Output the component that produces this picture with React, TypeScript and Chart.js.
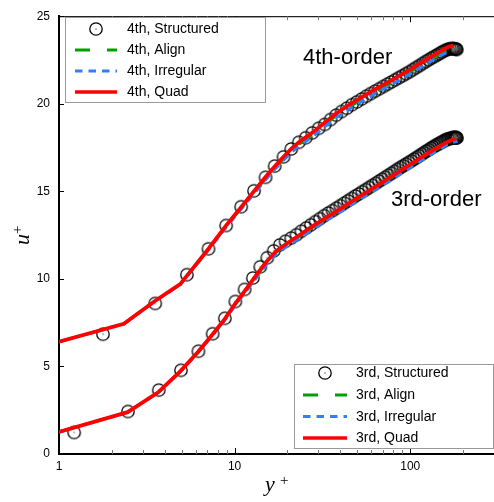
import React, { useEffect, useRef } from 'react';
import { Chart, registerables } from 'chart.js';

Chart.register(...registerables);

// ---------- axes ----------
const xTickLabels = [1, 10, 100];
const xMinorTicks = [2, 3, 4, 5, 6, 7, 8, 9, 20, 30, 40, 50, 60, 70, 80, 90, 200, 300];
const yTickLabels = [0, 5, 10, 15, 20, 25];

// ---------- 4th order ----------
const structured4X = [1.78, 3.53, 5.35, 7.1, 8.95, 10.9, 12.9, 15.0, 16.9, 19.0, 21.0, 23.2, 25.4, 27.7, 30.1, 32.6, 35.2, 37.9, 40.7, 43.6, 46.6, 49.7, 52.9, 56.2, 59.6, 63.1, 66.7, 70.4, 74.2, 78.1, 82.1, 86.2, 90.4, 94.7, 99.1, 103.6, 108.2, 112.9, 117.7, 122.6, 127.5, 132.4, 137.3, 142.2, 147.0, 151.7, 156.3, 160.7, 164.9, 168.8, 172.4, 175.6, 178.4, 180.8, 182.7, 184.0];
const structured4U = [6.84, 8.6, 10.24, 11.72, 13.05, 14.12, 15.03, 15.8, 16.44, 16.97, 17.42, 17.8, 18.06, 18.34, 18.6, 18.82, 19.1, 19.35, 19.56, 19.75, 19.95, 20.11, 20.27, 20.43, 20.58, 20.72, 20.86, 20.99, 21.12, 21.24, 21.37, 21.49, 21.6, 21.72, 21.83, 21.95, 22.07, 22.18, 22.3, 22.41, 22.51, 22.61, 22.7, 22.79, 22.87, 22.95, 23.02, 23.08, 23.12, 23.14, 23.15, 23.15, 23.14, 23.13, 23.12, 23.1];

const align4X = [1, 2.34, 3.5, 4.9, 7.1, 9, 11, 13, 15, 17, 19, 21, 23.2, 25.4, 29, 32.2, 37.5, 46.5, 60, 78, 100, 120, 140, 155, 166, 175];
const align4U = [6.41, 7.43, 8.71, 9.68, 11.68, 13.03, 14.09, 14.97, 15.73, 16.35, 16.86, 17.3, 17.68, 17.95, 18.37, 18.75, 19.29, 19.91, 20.57, 21.21, 21.82, 22.32, 22.72, 22.97, 23.12, 23.18];

const irregular4X = [1, 2.34, 3.5, 4.9, 7.1, 9, 11, 13, 15, 17, 19, 21, 23.2, 25.4, 29, 32.2, 37.5, 46.5, 60, 78, 100, 120, 140, 155, 168];
const irregular4U = [6.41, 7.43, 8.7, 9.66, 11.65, 12.98, 14.03, 14.9, 15.65, 16.27, 16.78, 17.22, 17.58, 17.85, 18.27, 18.64, 19.18, 19.8, 20.45, 21.09, 21.7, 22.2, 22.6, 22.85, 22.97];

const quad4X = [1, 2.34, 3.5, 4.9, 7.1, 9, 11, 13, 15, 17, 19, 21, 23.2, 25.4, 29, 32.2, 37.5, 46.5, 60, 78, 100, 120, 140, 155, 166, 177];
const quad4U = [6.41, 7.43, 8.72, 9.7, 11.72, 13.08, 14.15, 15.05, 15.82, 16.45, 16.97, 17.42, 17.8, 18.08, 18.5, 18.88, 19.42, 20.04, 20.7, 21.34, 21.95, 22.45, 22.85, 23.1, 23.26, 23.32];

// ---------- 3rd order ----------
const structured3X = [1.22, 2.47, 3.7, 4.95, 6.22, 7.5, 8.8, 10.1, 11.4, 12.7, 14.0, 15.35, 16.7, 18.1, 19.5, 21.0, 22.5, 24.0, 25.6, 27.2, 28.9, 30.6, 32.4, 34.2, 36.1, 38.0, 40.0, 42.1, 44.2, 46.4, 48.7, 51.0, 53.4, 55.9, 58.4, 61.0, 63.7, 66.5, 69.3, 72.2, 75.2, 78.3, 81.4, 84.6, 87.9, 91.2, 94.6, 98.1, 101.6, 105.2, 108.8, 112.5, 116.2, 120.0, 123.8, 127.6, 131.4, 135.2, 139.0, 142.8, 146.5, 150.2, 153.8, 157.3, 160.7, 164.0, 167.2, 170.2, 173.0, 175.6, 178.0, 180.1, 181.9, 183.3, 184.2];
const structured3U = [1.23, 2.43, 3.65, 4.78, 5.87, 6.87, 7.75, 8.71, 9.4, 10.05, 10.69, 11.21, 11.6, 11.94, 12.15, 12.33, 12.52, 12.72, 12.91, 13.09, 13.27, 13.44, 13.61, 13.76, 13.9, 14.04, 14.18, 14.32, 14.46, 14.59, 14.73, 14.85, 14.98, 15.1, 15.22, 15.34, 15.46, 15.58, 15.69, 15.8, 15.92, 16.03, 16.14, 16.25, 16.36, 16.46, 16.55, 16.65, 16.74, 16.84, 16.93, 17.03, 17.12, 17.21, 17.3, 17.38, 17.46, 17.54, 17.61, 17.68, 17.74, 17.8, 17.85, 17.91, 17.96, 17.98, 18.01, 18.03, 18.05, 18.07, 18.08, 18.07, 18.07, 18.06, 18.05];

const align3X = [1, 2.46, 3.67, 4.9, 6.2, 7.5, 8.8, 10.1, 11.5, 13, 15, 17.3, 20, 23, 26.6, 32, 40.9, 50, 62.9, 78, 96.7, 115, 136.5, 160, 172, 182];
const align3U = [1.26, 2.39, 3.51, 4.7, 5.81, 6.8, 7.68, 8.55, 9.28, 10.02, 10.85, 11.53, 11.98, 12.38, 12.81, 13.33, 13.99, 14.55, 15.17, 15.77, 16.37, 16.85, 17.31, 17.71, 17.86, 17.94];

const irregular3X = [1, 2.46, 3.67, 4.9, 6.2, 7.5, 8.8, 10.1, 11.5, 13, 15, 17.3, 20, 23, 26.6, 32, 40.9, 50, 62.9, 78, 96.7, 115, 136.5, 160, 175, 186];
const irregular3U = [1.26, 2.39, 3.5, 4.68, 5.79, 6.78, 7.64, 8.5, 9.22, 9.93, 10.76, 11.44, 11.88, 12.28, 12.71, 13.23, 13.89, 14.45, 15.07, 15.67, 16.27, 16.75, 17.21, 17.62, 17.8, 17.86];

const quad3X = [1, 2.46, 3.67, 4.9, 6.2, 7.5, 8.8, 10.1, 11.5, 13, 15, 17.3, 20, 23, 26.6, 32, 40.9, 50, 62.9, 78, 96.7, 115, 136.5, 160, 172, 182];
const quad3U = [1.26, 2.39, 3.52, 4.72, 5.84, 6.84, 7.72, 8.6, 9.34, 10.08, 10.92, 11.6, 12.05, 12.45, 12.88, 13.4, 14.06, 14.62, 15.24, 15.84, 16.44, 16.92, 17.38, 17.78, 17.93, 18.0];

const legend4Labels = ['4th, Structured', '4th, Align', '4th, Irregular', '4th, Quad'];
const legend3Labels = ['3rd, Structured', '3rd, Align', '3rd, Irregular', '3rd, Quad'];
const annotations = ['4th-order', '3rd-order'];

const RED = '#ff0000';
const GREEN = '#00a000';
const BLUE = '#2f80ff';
const GREEN_DASH = [15, 17];
const BLUE_DASH = [7.5, 6];
const SANS = '"Liberation Sans", Arial, Helvetica, sans-serif';
const SERIF = '"Liberation Serif", "DejaVu Serif", serif';

const pts = (xs: number[], us: number[]) => xs.map((x, i) => ({ x, y: us[i] }));

function makeCircleMarker(): HTMLCanvasElement {
  const c = document.createElement('canvas');
  c.width = 16;
  c.height = 16;
  const g = c.getContext('2d')!;
  g.strokeStyle = '#000';
  g.lineWidth = 1.3;
  g.beginPath();
  g.arc(8, 8, 6.2, 0, Math.PI * 2);
  g.stroke();
  g.fillStyle = '#666';
  g.beginPath();
  g.arc(8, 8, 0.8, 0, Math.PI * 2);
  g.fill();
  return c;
}

export default function App() {
  const ref = useRef<HTMLCanvasElement | null>(null);

  useEffect(() => {
    document.body.style.margin = '0';
    const canvas = ref.current;
    if (!canvas) return;
    const marker = makeCircleMarker();

    const lineDs = (label: string, xs: number[], us: number[], color: string, width: number, dash: number[]) => ({
      type: 'line' as const,
      label,
      data: pts(xs, us),
      borderColor: color,
      backgroundColor: color,
      borderWidth: width,
      borderDash: dash,
      pointRadius: 0,
      tension: 0,
      fill: false,
    });
    const circleDs = (label: string, xs: number[], us: number[]) => ({
      type: 'line' as const,
      label,
      data: pts(xs, us),
      showLine: false,
      pointStyle: marker,
      pointRadius: 7,
      borderColor: '#000',
      backgroundColor: 'transparent',
    });

    const decor = {
      id: 'decor',
      afterDraw(chart: any) {
        const { ctx, chartArea: a, scales } = chart;
        const xs = scales.x;
        const ys = scales.y;
        ctx.save();
        const seg = (x1: number, y1: number, x2: number, y2: number) => {
          ctx.beginPath();
          ctx.moveTo(x1, y1);
          ctx.lineTo(x2, y2);
          ctx.stroke();
        };
        // top frame
        ctx.strokeStyle = '#222';
        ctx.lineWidth = 1.2;
        seg(a.left, a.top + 0.5, a.right, a.top + 0.5);
        // x ticks (inward)
        ctx.lineWidth = 1;
        ctx.strokeStyle = '#000';
        for (const v of xTickLabels) {
          const px = Math.round(xs.getPixelForValue(v)) + 0.5;
          seg(px, a.bottom, px, a.bottom - 6);
          seg(px, a.top, px, a.top + 6);
        }
        ctx.strokeStyle = '#777';
        for (const v of xMinorTicks) {
          const px = Math.round(xs.getPixelForValue(v)) + 0.5;
          seg(px, a.bottom, px, a.bottom - 4);
          seg(px, a.top, px, a.top + 4);
        }
        // y ticks
        ctx.strokeStyle = '#000';
        for (const v of yTickLabels) {
          const py = Math.round(ys.getPixelForValue(v)) + 0.5;
          seg(a.left, py, a.left + 5, py);
        }

        // legends
        const drawLegend = (box: number[], labels: string[], rowsY: number[], symX: number[], textX: number) => {
          ctx.fillStyle = '#fff';
          ctx.fillRect(box[0], box[1], box[2] - box[0], box[3] - box[1]);
          ctx.strokeStyle = '#999';
          ctx.lineWidth = 1;
          ctx.setLineDash([]);
          ctx.strokeRect(box[0] + 0.5, box[1] + 0.5, box[2] - box[0], box[3] - box[1]);
          const [sx0, sx1] = symX;
          ctx.drawImage(marker, (sx0 + sx1) / 2 - 8, rowsY[0] - 8);
          ctx.strokeStyle = GREEN;
          ctx.lineWidth = 3;
          ctx.setLineDash(GREEN_DASH);
          seg(sx0, rowsY[1], sx1, rowsY[1]);
          ctx.strokeStyle = BLUE;
          ctx.setLineDash(BLUE_DASH);
          seg(sx0, rowsY[2], sx1, rowsY[2]);
          ctx.setLineDash([]);
          ctx.strokeStyle = RED;
          ctx.lineWidth = 3.5;
          seg(sx0, rowsY[3], sx1, rowsY[3]);
          ctx.fillStyle = '#000';
          ctx.font = '14px ' + SANS;
          ctx.textAlign = 'left';
          ctx.textBaseline = 'middle';
          labels.forEach((t, i) => ctx.fillText(t, textX, rowsY[i] + 0.5));
        };
        drawLegend([65, 17, 265, 102], legend4Labels, [29, 50, 71, 92], [75, 117], 127);
        drawLegend([294, 364, 493, 448], legend3Labels, [373, 395, 416.5, 438], [303, 347], 356);

        // annotations
        ctx.fillStyle = '#000';
        ctx.font = '22px ' + SANS;
        ctx.textAlign = 'left';
        ctx.textBaseline = 'alphabetic';
        ctx.fillText(annotations[0], 303, 64);
        ctx.fillText(annotations[1], 391, 206);

        // axis titles
        ctx.font = 'italic 22px ' + SERIF;
        ctx.fillText('y', 265, 491);
        ctx.font = '15px ' + SERIF;
        ctx.fillText('+', 280, 485);

        ctx.save();
        ctx.translate(29, 245);
        ctx.rotate(-Math.PI / 2);
        ctx.font = 'italic 22px ' + SERIF;
        ctx.fillText('u', 0, 0);
        ctx.font = '15px ' + SERIF;
        ctx.fillText('+', 11, -7);
        ctx.restore();

        ctx.restore();
      },
    };

    const chart = new Chart(canvas, {
      type: 'line',
      data: {
        datasets: [
          lineDs('4th, Quad', quad4X, quad4U, RED, 3.8, []),
          lineDs('3rd, Quad', quad3X, quad3U, RED, 3.8, []),
          lineDs('4th, Irregular', irregular4X, irregular4U, BLUE, 3, BLUE_DASH),
          lineDs('3rd, Irregular', irregular3X, irregular3U, BLUE, 3, BLUE_DASH),
          lineDs('4th, Align', align4X, align4U, GREEN, 3, GREEN_DASH),
          lineDs('3rd, Align', align3X, align3U, GREEN, 3, GREEN_DASH),
          circleDs('4th, Structured', structured4X, structured4U),
          circleDs('3rd, Structured', structured3X, structured3U),
        ] as any,
      },
      plugins: [decor],
      options: {
        animation: false,
        responsive: false,
        devicePixelRatio: 1,
        layout: { padding: { top: 12, right: 1, left: 0, bottom: 0 } },
        plugins: { legend: { display: false }, tooltip: { enabled: false } },
        scales: {
          x: {
            type: 'logarithmic',
            min: 1,
            max: 300,
            afterFit: (s: any) => {
              s.height = 48;
            },
            afterBuildTicks: (s: any) => {
              s.ticks = xTickLabels.map((v) => ({ value: v }));
            },
            grid: { display: false, drawTicks: false },
            border: { display: true, color: '#000', width: 2 },
            ticks: {
              callback: (v: any) => String(v),
              color: '#000',
              font: { family: SANS, size: 12 },
              padding: 5,
              maxRotation: 0,
              autoSkip: false,
            },
          },
          y: {
            type: 'linear',
            min: 0,
            max: 25,
            afterFit: (s: any) => {
              s.width = 59;
            },
            afterBuildTicks: (s: any) => {
              s.ticks = yTickLabels.map((v) => ({ value: v }));
            },
            grid: { display: false, drawTicks: false },
            border: { display: true, color: '#000', width: 2 },
            ticks: {
              color: '#000',
              font: { family: SANS, size: 12 },
              padding: 9,
            },
          },
        },
      } as any,
    });
    return () => chart.destroy();
  }, []);

  return (
    <div style={{ width: 494, height: 502, overflow: 'hidden', background: '#fff' }}>
      <canvas ref={ref} width={502} height={502} style={{ display: 'block' }} />
    </div>
  );
}
